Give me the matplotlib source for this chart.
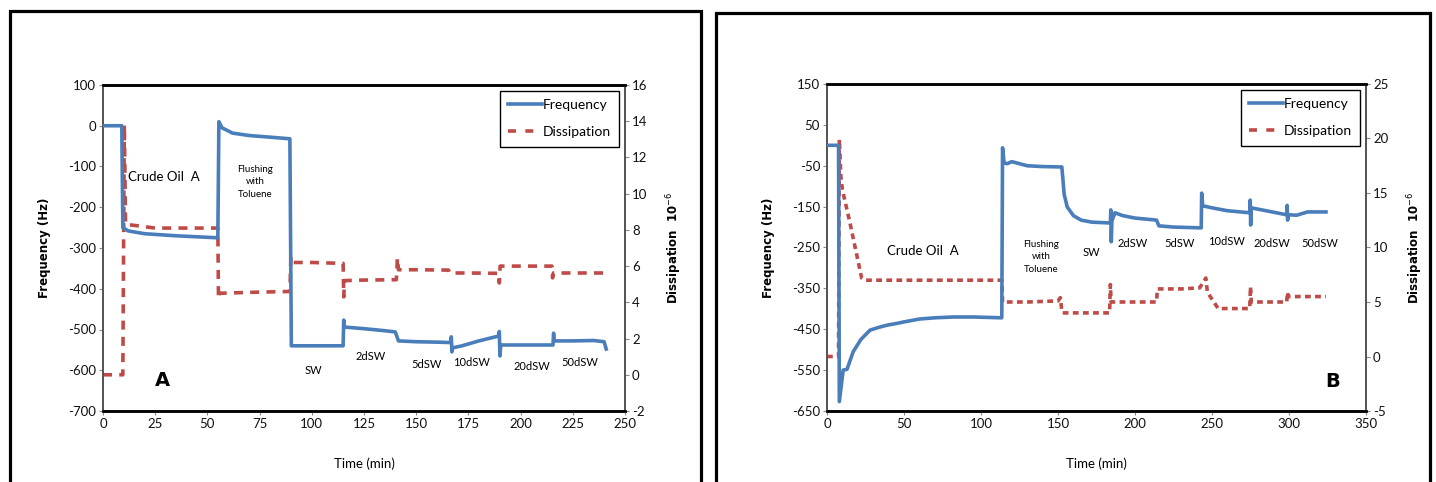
import matplotlib.pyplot as plt
from matplotlib.patches import Rectangle
from matplotlib.lines import Line2D

plt.rcParams['font.family'] = ['Lato', 'DejaVu Sans']
plt.rcParams['axes.unicode_minus'] = False

# ---- Panel A data ----
t_freq_a = [0, 9, 9.5, 12, 20, 35, 55, 55.5, 57, 62, 70, 80, 89.5, 90.2, 100, 115,
            115.3, 115.6, 125, 135, 140, 141.5, 150, 160, 166.5, 166.8, 167.1, 167.5,
            172, 180, 189.5, 189.8, 190.1, 190.5, 200, 215.5, 215.8, 216.1, 225, 235,
            240, 241]
freq_a = [0, 0, -250, -258, -265, -270, -275, 10, -5, -18, -24, -28, -32, -540, -540, -540,
          -477, -494, -498, -503, -506, -528, -530, -531, -532, -518, -555, -545,
          -540, -528, -516, -505, -565, -538, -538, -538, -509, -528, -528, -527,
          -530, -548]

t_diss_a = [0, 9.5, 10.2, 10.8, 15, 25, 40, 55, 55.3, 55.8, 70, 89.5, 90, 90.6, 100, 115,
            115.3, 115.7, 125, 140.5, 141, 141.5, 150, 165.5, 166, 175, 189.5, 189.8,
            190.2, 200, 215, 215.3, 215.7, 225, 240]
diss_a = [0, 0, 13.8, 8.3, 8.25, 8.1, 8.1, 8.1, 4.2, 4.5, 4.55, 4.6, 6.5, 6.2, 6.2, 6.15,
          4.3, 5.2, 5.23, 5.25, 6.45, 5.8, 5.8, 5.78, 5.62, 5.62, 5.6, 5.07,
          6.0, 6.0, 6.0, 5.35, 5.62, 5.62, 5.62]

labels_a = ['SW', '2dSW', '5dSW', '10dSW', '20dSW', '50dSW']
label_t_a = [100.6, 128, 155, 176.7, 205.5, 228.5]
label_f_a = [-600, -567, -585, -580, -590, -582]

# ---- Panel B data ----
t_freq_b = [0, 7.5, 8, 10.5, 13, 17, 22, 28, 34, 39, 45, 50, 60, 70, 82, 95, 113.5, 114,
            115, 117, 120, 125, 130, 140, 152.5, 154, 156, 160, 165, 172, 184, 184.3,
            184.6, 185, 187, 192, 200, 214, 215.5, 225, 243, 243.3, 244, 250, 260,
            274.5, 274.8, 275.1, 275.5, 285, 298.5, 298.8, 299.1, 299.5, 305, 312, 324]
freq_b = [0, 0, -627, -550, -548, -505, -475, -452, -445, -440, -436, -432, -425, -422,
          -420, -420, -422, -6, -43, -45, -40, -45, -50, -52, -53, -120, -151, -172,
          -183, -188, -190, -158, -236, -185, -165, -172, -178, -183, -197, -200, -202,
          -117, -148, -153, -160, -165, -134, -195, -153, -160, -170, -147, -183, -170,
          -171, -163, -163]

t_diss_b = [0, 5, 7.5, 8, 9, 10, 15, 22.5, 25, 40, 60, 80, 100, 113.5, 114, 130, 150,
            151.5, 152.5, 153, 170, 183.5, 184, 184.5, 190, 214, 214.5, 230, 242, 246,
            247, 254, 265, 274.5, 275, 275.5, 285, 298.5, 299, 299.5, 310, 324]
diss_b = [0, 0, 0, 19.9, 16.5, 15.3, 12.2, 7.2, 7.0, 7.0, 7.0, 7.0, 7.0, 7.0, 5.0, 5.0,
          5.1, 5.4, 4.2, 4.0, 4.0, 4.0, 6.6, 5.0, 5.0, 5.0, 6.2, 6.2, 6.3, 7.2, 5.9, 4.4,
          4.4, 4.4, 6.4, 5.0, 5.0, 5.0, 5.9, 5.5, 5.5, 5.5]

labels_b = ['SW', '2dSW', '5dSW', '10dSW', '20dSW', '50dSW']
label_t_b = [172, 198.7, 229, 259.7, 289, 320]
label_f_b = [-263, -239, -239, -236, -239, -239]

blue = '#4A7EBB'
red = '#BE4B48'
W, H = 1436, 482

fig = plt.figure(figsize=(W / 100, H / 100), dpi=100)

# panel frames
fig.add_artist(Rectangle((9.5 / W, -0.05), (701 - 9.5) / W, (H - 11) / H + 0.05,
                         transform=fig.transFigure, fill=False, lw=2.3, ec='black'))
fig.add_artist(Rectangle((716 / W, -0.05), (1430 - 716) / W, (H - 13) / H + 0.05,
                         transform=fig.transFigure, fill=False, lw=2.3, ec='black'))


def style_axes(ax, ax2):
    for a in (ax, ax2):
        for side in ('top', 'bottom'):
            a.spines[side].set_color('black')
            a.spines[side].set_linewidth(1.8)
        for side in ('left', 'right'):
            a.spines[side].set_color('#555555')
            a.spines[side].set_linewidth(1.3)
        a.tick_params(length=3, width=0.8, color='#888888', labelsize=9.5, pad=2,
                      labelcolor='#111111')


def panel(rect, t_f, f, t_d, d, xlim, xticks, ylim, yticks, y2lim, y2ticks, dash):
    ax = fig.add_axes(rect)
    ax2 = ax.twinx()
    ax.plot(t_f, f, color=blue, lw=2.6, zorder=3)
    ax2.plot(t_d, d, color=red, lw=2.6, linestyle=dash)
    ax.set_zorder(ax2.get_zorder() + 1)
    ax.patch.set_visible(False)
    ax.set_xlim(xlim)
    ax.set_xticks(xticks)
    ax.set_ylim(ylim)
    ax.set_yticks(yticks)
    ax2.set_ylim(y2lim)
    ax2.set_yticks(y2ticks)
    style_axes(ax, ax2)
    ax.set_ylabel('Frequency (Hz)', fontsize=8.5, fontweight='bold',
                  family='DejaVu Sans', labelpad=12)
    ax2.set_ylabel('Dissipation  10$^{-6}$', fontsize=8.5, fontweight='bold',
                   family='DejaVu Sans', labelpad=12)
    ax.set_xlabel('Time (min)', fontsize=9.5, labelpad=20)
    handles = [Line2D([], [], color=blue, lw=2.6),
               Line2D([], [], color=red, lw=2.6, linestyle=(0, (2.2, 2.6)))]
    leg = ax.legend(handles, ['Frequency', 'Dissipation'], loc='upper right',
                    fontsize=10, frameon=True, fancybox=False, edgecolor='black',
                    framealpha=1, handlelength=2.4, handletextpad=0.1,
                    borderaxespad=0.4, labelspacing=1.1, borderpad=0.6)
    leg.get_frame().set_linewidth(1.0)
    return ax


ax_a = panel([103 / W, 1 - 411 / H, 522 / W, 326 / H],
             t_freq_a, freq_a, t_diss_a, diss_a,
             (0, 250), range(0, 251, 25), (-700, 100), range(-700, 101, 100),
             (-2, 16), range(-2, 17, 2), (0, (2.5, 2)))
ax_a.text(29, -126, 'Crude Oil  A', fontsize=9.5, ha='center', va='center')
ax_a.text(73, -138, 'Flushing\nwith\nToluene', fontsize=7, ha='center', va='center',
          linespacing=1.5)
for lab, t, y in zip(labels_a, label_t_a, label_f_a):
    ax_a.text(t, y, lab, fontsize=8, ha='center', va='center')
ax_a.text(28.7, -624, 'A', fontsize=14, fontweight='bold', ha='center', va='center',
          family='DejaVu Sans')

ax_b = panel([827 / W, 1 - 411 / H, 539 / W, 327 / H],
             t_freq_b, freq_b, t_diss_b, diss_b,
             (0, 350), range(0, 351, 50), (-650, 150), range(-650, 151, 100),
             (-5, 25), range(-5, 26, 5), (0, (1.6, 1.2)))
ax_b.text(62, -258, 'Crude Oil  A', fontsize=9.5, ha='center', va='center')
ax_b.text(139, -273, 'Flushing\nwith\nToluene', fontsize=7, ha='center', va='center',
          linespacing=1.5)
for lab, t, y in zip(labels_b, label_t_b, label_f_b):
    ax_b.text(t, y, lab, fontsize=8, ha='center', va='center')
ax_b.text(328.6, -579, 'B', fontsize=14, fontweight='bold', ha='center', va='center',
          family='DejaVu Sans')

fig.savefig('out.png', dpi=100)
